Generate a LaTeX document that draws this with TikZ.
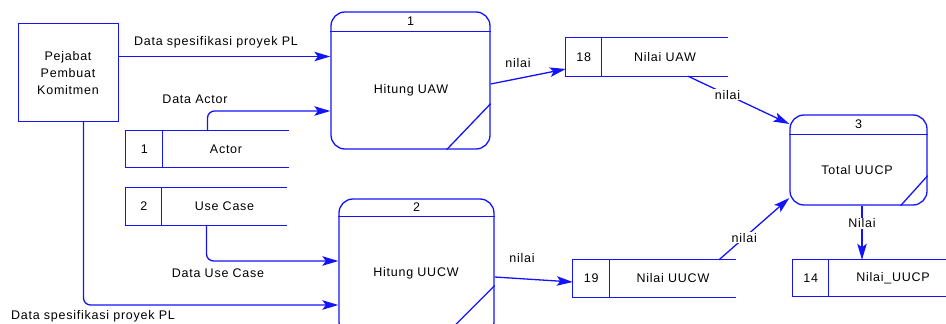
\documentclass[tikz,border=0pt]{standalone}
\usepackage{fontspec}
\setmainfont{Liberation Sans}[LetterSpace=6]
\usetikzlibrary{arrows.meta}
\definecolor{dfdblue}{RGB}{20,20,250}

% open-ended data store: name, centre, width, height, number cell width, number, label
\newcommand\dfdstore[8]{%
  \node[inner sep=0, minimum width=#4pt, minimum height=#5pt] (#1) at (#2,#3) {};
  \draw[line] (#1.north east) -- (#1.north west) -- (#1.south west) -- (#1.south east);
  \draw[line] ([xshift=#6pt]#1.north west) -- ([xshift=#6pt]#1.south west);
  \node[lbl] (#1-num) at ([xshift=#6pt/2]#1.west) {#7};
  \node[lbl] (#1-txt) at ([xshift=#6pt/2]#1.center) {#8};
}

\tikzset{
  line/.style={draw=dfdblue, line width=1.3pt},
  flow/.style={line, -{Stealth[length=16pt,width=9.5pt,inset=3.5pt]}},
  lbl/.style={font=\fontsize{12.5}{17}\selectfont, text=black, inner sep=1pt, align=center},
  onlbl/.style={lbl, fill=white},
  proc/.style={line, rounded corners=14pt, inner sep=0},
}

\begin{document}
\begin{tikzpicture}[x=1pt, y=-1pt]
\useasboundingbox (0,0) rectangle (946,324);
\clip (0,0) rectangle (946,324);

% external entity
\node[line, inner sep=0, minimum width=100pt, minimum height=98pt] (ppk) at (68.5,72.5) {};
\node[lbl] (ppk-txt) at (68,73) {Pejabat\\Pembuat\\Komitmen};

% processes
\node[proc, minimum width=159pt, minimum height=137pt] (p1) at (410.5,80.5) {};
\draw[line] ([yshift=-20pt]p1.north west) -- ([yshift=-20pt]p1.north east);
\draw[line] ([xshift=-44pt]p1.south east) -- ([yshift=46pt]p1.south east);
\node[lbl] (p1-num) at ([yshift=-10pt]p1.north) {1};
\node[lbl] (p1-txt) at (411,90) {Hitung UAW};

\node[proc, minimum width=155pt, minimum height=137pt] (p2) at (416.5,267.5) {};
\draw[line] ([yshift=-18pt]p2.north west) -- ([yshift=-18pt]p2.north east);
\draw[line] ([xshift=-51pt]p2.south east) -- ([yshift=51pt]p2.south east);
\node[lbl] (p2-num) at ([yshift=-9pt]p2.north) {2};
\node[lbl] (p2-txt) at (416,273) {Hitung UUCW};

\node[proc, minimum width=137pt, minimum height=90pt] (p3) at (858.5,160) {};
\draw[line] ([yshift=-20pt]p3.north west) -- ([yshift=-20pt]p3.north east);
\draw[line] ([xshift=-27pt]p3.south east) -- ([yshift=30pt]p3.south east);
\node[lbl] (p3-num) at ([yshift=-10pt]p3.north) {3};
\node[lbl] (p3-txt) at (857,170) {Total UUCP};

% data stores
\dfdstore{actor}{207.5}{149}{163}{36}{37}{1}{Actor}
\dfdstore{usecase}{206.5}{206.5}{161}{37}{36}{2}{Use Case}
\dfdstore{s18}{647}{57}{162}{38}{36}{18}{Nilai UAW}
\dfdstore{s19}{654.5}{278.5}{163}{37}{37}{19}{Nilai UUCW}
\dfdstore{s14}{875}{278}{164}{36}{36}{14}{Nilai\_UUCP}

% data flows
\draw[flow] ([yshift=16pt]ppk.east) -- ([yshift=16pt]ppk.east -| p1.west);
\node[lbl] (f1) at (216,42) {Data spesifikasi proyek PL};

\draw[flow, rounded corners=7pt] (actor.north) |- ([yshift=-30.5pt]p1.west);
\node[lbl] (f2) at (195,99) {Data Actor};

\draw[flow, rounded corners=7pt] (usecase.south) |- ([yshift=6.5pt]p2.west);
\node[lbl] (f3) at (218,273) {Data Use Case};

\draw[flow, rounded corners=7pt] ([xshift=15pt]ppk.south) |- ([yshift=-37.5pt]p2.west);
\node[lbl] (f4) at (93,316) {Data spesifikasi proyek PL};

\draw[flow] ([yshift=-3.5pt]p1.east) -- ([yshift=-12pt]s18.west);
\node[lbl] (f5) at (518,63) {nilai};

\draw[flow] ([yshift=-9.5pt]p2.east) -- ([yshift=-3.5pt]s19.west);
\node[lbl] (f6) at (522,258) {nilai};

\draw[flow] ([xshift=41pt]s18.south) -- node[onlbl, pos=0.39] (f7) {nilai} ([yshift=36pt]p3.west);

\draw[flow] ([xshift=64.5pt]s19.north) -- node[onlbl, pos=0.36] (f8) {nilai} ([yshift=-38pt]p3.west);

\draw[flow] ([xshift=3.5pt]p3.south) -- node[onlbl, pos=0.33] (f9) {Nilai} ([xshift=3.5pt]p3.south |- s14.north);
\end{tikzpicture}
\end{document}
